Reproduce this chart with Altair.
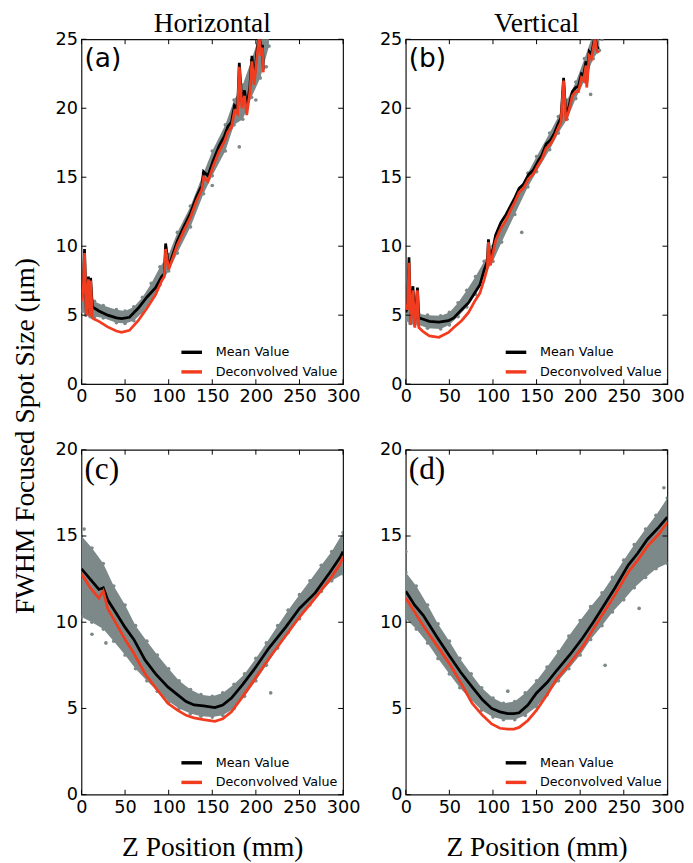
import altair as alt
import pandas as pd

# ---------------- data ----------------
X_TICKS = [0, 50, 100, 150, 200, 250, 300]
Y_TICKS_TOP = [0, 5, 10, 15, 20, 25]
Y_TICKS_BOT = [0, 5, 10, 15, 20]

# (a) Horizontal, upper
A_Z = [0, 2, 3.5, 5.5, 8, 9.5, 10.5, 12.5, 15, 20, 30, 40, 46, 55, 65, 75, 85, 92, 95, 96.5, 100,
       110, 118, 125, 132, 138, 140, 145, 151, 158, 164, 168, 172, 175.5, 179, 181, 184, 187,
       189.5, 193, 195.5, 198, 201, 203.7, 206, 207.5, 208.6]
A_MEAN = [6.1, 7.0, 9.8, 5.3, 7.8, 5.1, 7.7, 5.6, 5.5, 5.3, 5.0, 4.8, 4.75, 4.85, 5.5, 6.3, 7.0,
          7.8, 8.0, 10.2, 8.5, 10.4, 11.5, 12.4, 13.6, 14.4, 15.4, 15.1, 16.2, 17.3, 18.0, 18.7,
          19.0, 20.2, 20.0, 23.3, 20.4, 21.3, 20.0, 21.5, 23.8, 22.1, 24.0, 25.4, 24.2, 24.6, 22.8]
A_DEC = [6.0, 6.8, 9.5, 5.0, 7.6, 4.9, 7.5, 4.8, 4.7, 4.55, 4.15, 3.85, 3.75, 3.9, 4.6, 5.5, 6.5,
         7.5, 7.8, 9.8, 8.3, 10.1, 11.2, 12.1, 13.3, 14.1, 15.0, 14.7, 15.8, 16.9, 17.6, 18.3,
         18.6, 19.8, 19.6, 23.0, 20.0, 20.9, 19.5, 21.1, 23.4, 21.7, 23.6, 25.2, 23.8, 24.4, 22.6]
A_CZ = [0, 5, 10, 15, 25, 40, 50, 60, 70, 80, 90, 100, 110, 125, 140, 150, 165, 175, 185, 195, 205, 215]
A_CHI = [6.8, 7.0, 6.6, 6.0, 5.7, 5.4, 5.3, 5.6, 6.3, 7.3, 8.5, 9.4, 11.0, 12.9, 15.3, 16.9, 18.8,
         20.6, 21.7, 23.5, 25.5, 26.0]
A_CLO = [5.3, 5.0, 4.9, 4.9, 4.8, 4.45, 4.4, 4.6, 5.2, 6.1, 7.2, 8.2, 9.5, 11.4, 13.8, 15.1, 16.9,
         18.8, 19.2, 20.8, 22.2, 24.5]
A_OZ = [181, 150, 200, 212]
A_OV = [17.2, 14.4, 20.6, 23.0]

# (b) Vertical, upper
B_Z = [0, 2, 3.7, 5.6, 8.2, 10.4, 13.4, 15, 20, 27, 38, 49, 55, 64, 72, 79, 85, 90, 93.5, 94.8, 97,
       103, 109, 115, 120, 125, 130, 135, 141, 146, 152, 156, 161, 166, 170.5, 175, 178, 181, 183.6,
       187, 191, 194.8, 198, 201.5, 204, 206.7, 207.5, 210.4, 213, 217, 219, 221]
B_MEAN = [5.2, 5.6, 9.2, 4.7, 7.1, 4.6, 7.0, 4.8, 4.7, 4.55, 4.5, 4.6, 4.8, 5.4, 5.9, 6.6, 7.2, 8.3,
          8.9, 10.5, 8.9, 10.8, 11.7, 12.3, 12.9, 13.5, 14.2, 14.5, 15.2, 15.5, 16.2, 16.6, 17.4,
          17.7, 18.2, 18.9, 19.3, 22.2, 19.5, 20.1, 21.2, 21.5, 21.6, 22.5, 22.4, 23.4, 21.8, 24.1,
          23.9, 25.3, 24.5, 24.3]
B_DEC = [5.8, 5.4, 8.8, 4.3, 6.8, 4.1, 6.8, 4.1, 3.8, 3.5, 3.4, 3.75, 4.1, 4.6, 5.2, 6.0, 6.6, 7.6,
         8.4, 10.3, 8.6, 10.4, 11.3, 11.9, 12.6, 13.2, 13.9, 14.2, 14.9, 15.2, 15.9, 16.3, 17.1,
         17.4, 17.9, 18.6, 19.0, 22.0, 19.1, 19.8, 20.9, 21.2, 21.2, 22.2, 22.0, 23.1, 21.5, 23.8,
         23.6, 25.1, 24.2, 24.0]
B_CZ = [0, 5, 10, 15, 25, 40, 50, 60, 70, 80, 90, 100, 110, 125, 140, 150, 165, 175, 185, 195, 205,
        215, 222]
B_CHI = [5.6, 5.4, 5.2, 5.1, 5.0, 4.95, 5.2, 5.9, 6.8, 7.8, 8.9, 10.0, 11.3, 13.4, 15.3, 16.5, 18.2,
         19.4, 20.6, 21.9, 23.6, 25.4, 26.0]
B_CLO = [4.6, 4.4, 4.3, 4.3, 4.05, 4.0, 4.3, 4.9, 5.6, 6.5, 7.9, 8.9, 10.3, 12.3, 14.3, 15.4, 17.0,
         18.2, 19.2, 20.7, 22.0, 23.6, 24.2]
B_OZ = [133, 225, 212]
B_OV = [11.0, 25.0, 21.0]

# (c) Horizontal, lower
C_Z = [0, 10, 20, 25, 30, 40, 50, 60, 73, 85, 99, 110, 120, 129, 140, 153, 162, 172, 185, 200, 215,
       234, 250, 268, 285, 297, 300]
C_MEAN = [13.1, 12.5, 11.9, 12.0, 11.3, 10.5, 9.7, 9.0, 7.8, 7.0, 6.25, 5.8, 5.4, 5.2, 5.15, 5.05,
          5.2, 5.6, 6.4, 7.4, 8.5, 9.7, 10.8, 11.7, 12.9, 13.8, 14.1]
C_DEC = [12.8, 12.0, 11.4, 11.8, 10.8, 9.9, 9.0, 8.2, 7.0, 6.2, 5.3, 4.9, 4.6, 4.45, 4.35, 4.25,
         4.4, 4.8, 5.7, 6.8, 7.9, 9.2, 10.3, 11.4, 12.5, 13.4, 13.8]
C_CZ = [0, 12, 25, 37, 50, 62, 75, 87, 100, 112, 125, 137, 150, 162, 175, 187, 200, 212, 225, 237,
        250, 262, 275, 287, 300]
C_CHI = [15.0, 14.3, 13.4, 12.1, 11.0, 9.8, 8.9, 8.1, 7.3, 6.6, 6.1, 5.8, 5.7, 5.9, 6.4, 7.0, 7.9,
         8.8, 9.8, 10.7, 11.6, 12.4, 13.3, 14.1, 15.2]
C_CLO = [10.3, 10.0, 9.6, 8.9, 8.1, 7.3, 6.6, 6.0, 5.4, 5.0, 4.7, 4.55, 4.5, 4.6, 5.0, 5.7, 6.6,
         7.5, 8.5, 9.4, 10.2, 11.0, 11.8, 12.4, 12.8]
C_OZ = [217, 3, 12, 28]
C_OV = [5.9, 15.4, 9.3, 8.8]

# (d) Vertical, lower
D_Z = [0, 10, 20, 35, 50, 63, 76, 88, 98.5, 108, 117, 124, 130, 140, 150, 162, 173, 188, 203, 215,
       225, 240, 255, 266, 277, 290, 300]
D_MEAN = [11.8, 11.0, 10.4, 9.2, 8.05, 7.1, 6.25, 5.5, 5.0, 4.8, 4.7, 4.7, 4.75, 5.2, 5.9, 6.5, 7.2,
          8.1, 9.1, 10.0, 10.8, 12.0, 13.3, 14.0, 14.8, 15.5, 16.1]
D_DEC = [11.4, 10.6, 9.8, 8.7, 7.6, 6.5, 5.3, 4.6, 4.1, 3.85, 3.8, 3.8, 3.9, 4.3, 4.9, 5.8, 6.7,
         7.6, 8.6, 9.6, 10.4, 11.6, 12.9, 13.6, 14.4, 15.1, 15.8]
D_CZ = [0, 12, 25, 37, 50, 62, 75, 87, 100, 112, 125, 137, 150, 162, 175, 187, 200, 212, 225, 237,
        250, 262, 275, 287, 300]
D_CHI = [12.9, 12.1, 11.0, 9.9, 8.9, 7.9, 7.0, 6.2, 5.6, 5.3, 5.4, 5.9, 6.6, 7.4, 8.3, 9.2, 10.1,
         10.9, 11.7, 12.6, 13.6, 14.5, 15.4, 16.2, 17.2]
D_CLO = [10.2, 9.6, 8.8, 7.9, 7.0, 6.2, 5.5, 4.9, 4.5, 4.35, 4.35, 4.6, 5.1, 5.8, 6.6, 7.3, 8.1,
         9.0, 9.8, 10.6, 11.3, 12.0, 12.6, 13.1, 13.4]
D_OZ = [228.6, 267.6, 0, 117, 296]
D_OV = [7.5, 10.8, 14.1, 6.0, 17.8]

SERIES = ["Mean Value", "Deconvolved Value"]
SERIES_COLORS = ["#000000", "#f23c1f"]

# ---------------- style ----------------
SANS = "DejaVu Sans"
SERIF = "Liberation Serif"
W, H = 267, 352
CLOUD = "#7d8989"
TICK = 5
TITLE_SIZE = 28


def panel(z, mean, dec, cz, clo, chi, oz, ov, ymax, yticks, label, label_font, label_size,
          title=None, xtitle=None):
    lines = pd.DataFrame({"z": z, "mean": mean, "dec": dec})
    cloud = pd.DataFrame({"z": cz, "lo": clo, "hi": chi})
    outl = pd.DataFrame({"z": oz, "v": ov})
    xs = alt.Scale(domain=[0, 300], nice=False, zero=False)
    ys = alt.Scale(domain=[0, ymax], nice=False, zero=False)

    xkw = dict(values=X_TICKS, labelFlush=False, labelPadding=4, ticks=False, domain=False,
               grid=False, labelFont=SANS, labelFontSize=18, labelColor="black",
               format="d")
    if xtitle:
        xkw.update(title=xtitle, titleFont=SERIF, titleFontSize=TITLE_SIZE,
                   titleFontWeight="normal", titleColor="black", titlePadding=18)
    else:
        xkw.update(title=None)
    ykw = dict(values=yticks, labelFlush=False, labelPadding=4, ticks=False, domain=False,
               grid=False, labelFont=SANS, labelFontSize=18, labelColor="black", title=None,
               format="d")
    xax = alt.Axis(**xkw)
    yax = alt.Axis(**ykw)

    def X(f):
        return alt.X(f, type="quantitative", scale=xs, axis=xax)

    def Y(f):
        return alt.Y(f, type="quantitative", scale=ys, axis=yax)

    area = alt.Chart(cloud).mark_area(color=CLOUD, clip=True).encode(
        x=X("z"), y=Y("lo"), y2="hi:Q",
    )
    edge = alt.Chart(cloud).transform_fold(["lo", "hi"], as_=["k", "v"]).mark_circle(
        color=CLOUD, size=14, opacity=1, clip=True
    ).encode(x=X("z"), y=Y("v"))
    outp = alt.Chart(outl).mark_circle(color=CLOUD, size=14, opacity=1, clip=True).encode(
        x=X("z"), y=Y("v"))

    cscale = alt.Scale(domain=SERIES, range=SERIES_COLORS)
    leg = alt.Legend(title=None, orient="bottom-right", offset=5, symbolType="stroke",
                     symbolStrokeWidth=3.5, symbolSize=441, labelFont=SANS, labelFontSize=13,
                     labelColor="black", rowPadding=-1, labelOffset=12, padding=0)
    mline = alt.Chart(lines).transform_calculate(s="'Mean Value'").mark_line(
        strokeWidth=2.8, clip=True
    ).encode(
        x=X("z"), y=Y("mean"),
        color=alt.Color("s:N", scale=cscale, legend=leg),
    )
    dline = alt.Chart(lines).transform_calculate(s="'Deconvolved Value'").mark_line(
        strokeWidth=2.8, clip=True
    ).encode(
        x=X("z"), y=Y("dec"),
        color=alt.Color("s:N", scale=cscale, legend=leg),
    )

    xt = pd.DataFrame({"t": X_TICKS})
    yt = pd.DataFrame({"t": yticks})
    rx = dict(color="black", strokeWidth=1)
    t_bottom = alt.Chart(xt).mark_rule(**rx).encode(
        x=X("t"), y=alt.value(H), y2=alt.value(H - TICK))
    t_top = alt.Chart(xt).mark_rule(**rx).encode(
        x=X("t"), y=alt.value(0), y2=alt.value(TICK))
    t_left = alt.Chart(yt).mark_rule(**rx).encode(
        y=Y("t"), x=alt.value(0), x2=alt.value(TICK))
    t_right = alt.Chart(yt).mark_rule(**rx).encode(
        y=Y("t"), x=alt.value(W), x2=alt.value(W - TICK))

    lab = alt.Chart(pd.DataFrame({"l": [label]})).mark_text(
        align="left", baseline="middle", font=label_font, fontSize=label_size, color="black"
    ).encode(text="l:N", x=alt.value(3), y=alt.value(20))

    props = dict(width=W, height=H)
    if title:
        props["title"] = alt.TitleParams(title, font=SERIF, fontSize=TITLE_SIZE,
                                         fontWeight="normal", color="black", anchor="middle",
                                         offset=-8)
    return alt.layer(area, edge, outp, mline, dline, t_bottom, t_top, t_left, t_right,
                     lab).properties(**props)


pa = panel(A_Z, A_MEAN, A_DEC, A_CZ, A_CLO, A_CHI, A_OZ, A_OV, 25, Y_TICKS_TOP, "(a)", SANS, 27,
           title="Horizontal")
pb = panel(B_Z, B_MEAN, B_DEC, B_CZ, B_CLO, B_CHI, B_OZ, B_OV, 25, Y_TICKS_TOP, "(b)", SANS, 27,
           title="Vertical")
pc = panel(C_Z, C_MEAN, C_DEC, C_CZ, C_CLO, C_CHI, C_OZ, C_OV, 20, Y_TICKS_BOT, "(c)", SERIF, 32,
           xtitle="Z Position (mm)")
pd_ = panel(D_Z, D_MEAN, D_DEC, D_CZ, D_CLO, D_CHI, D_OZ, D_OV, 20, Y_TICKS_BOT, "(d)", SERIF, 32,
            xtitle="Z Position (mm)")

top = alt.hconcat(pa, pb, spacing=18).resolve_scale(color="independent").resolve_legend(
    color="independent")
bot = alt.hconcat(pc, pd_, spacing=18).resolve_scale(color="independent").resolve_legend(
    color="independent")

chart = alt.vconcat(top, bot, spacing=34).resolve_scale(color="independent").resolve_legend(
    color="independent"
).properties(
    title=alt.TitleParams("FWHM Focused Spot Size (μm)", orient="left", anchor="middle",
                          font=SERIF, fontSize=TITLE_SIZE, fontWeight="normal", color="black",
                          offset=15),
    padding={"left": 4, "top": -7, "right": 0, "bottom": 0},
).configure_view(stroke="#111111", strokeWidth=1.2)

chart.save("out.html", embed_options={"renderer": "svg", "actions": False})
